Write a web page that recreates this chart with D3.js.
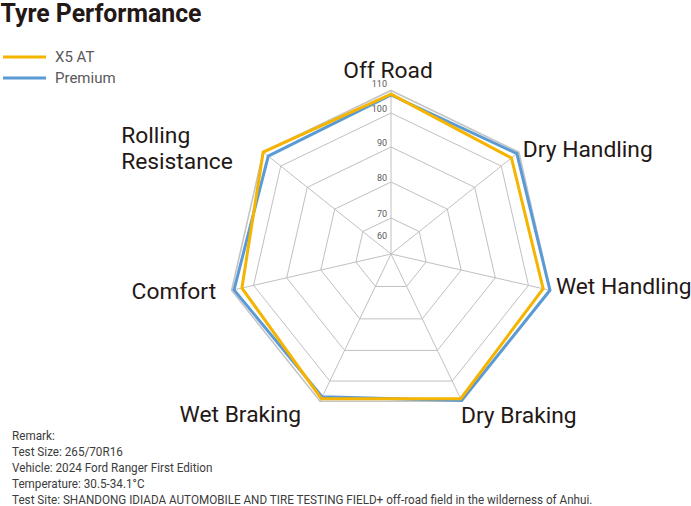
<!DOCTYPE html>
<html>
<head>
<meta charset="utf-8">
<script src="https://cdn.jsdelivr.net/npm/d3@7/dist/d3.min.js"></script>
<style>
  html, body { margin: 0; padding: 0; background: #ffffff; }
  svg { display: block; font-family: Roboto, "Noto Sans", sans-serif; }
</style>
</head>
<body>
<svg id="chart" width="691" height="506"></svg>
<script>
// ---- data ----
const categories = ["Off Road", "Dry Handling", "Wet Handling", "Dry Braking", "Wet Braking", "Comfort", "Rolling Resistance"];
const seriesNames = ["X5 AT", "Premium"];
const x5AT    = [108.4, 105.8, 106.7, 108.7, 108.7, 105.3, 110.0];
const premium = [108.0, 108.9, 109.8, 109.6, 107.8, 108.9, 107.1];
const tickLabels = [60, 70, 80, 90, 100, 110];
const gridValues = [70, 80, 90, 100, 110];
const titleText = "Tyre Performance";
const remarks = [
  "Remark:",
  "Test Size: 265/70R16",
  "Vehicle: 2024 Ford Ranger First Edition",
  "Temperature: 30.5-34.1°C",
  "Test Site: SHANDONG IDIADA AUTOMOBILE AND TIRE TESTING FIELD+ off-road field in the wilderness of Anhui."
];

// ---- layout / style ----
const cx = 391, cy = 254;
const colors = ["#F5B400", "#5B9BD5"];
const labelLayout = [
  { anchor: "middle", dx: -3,   dy: -21 },
  { anchor: "start",  dx: 4,    dy: -3 },
  { anchor: "start",  dx: 5.5,  dy: -4.5 },
  { anchor: "start",  dx: -1,   dy: 13 },
  { anchor: "end",    dx: -19,  dy: 12 },
  { anchor: "end",    dx: -15.5,dy: 0.5 },
  { anchor: "start",  dx: -142, dy: -4, lines: ["Rolling", "Resistance"] }
];

const svg = d3.select("#chart");
const r = d3.scaleLinear().domain([60, 70, 80, 90, 100, 110]).range([14, 36, 72, 107, 141, 163.5]);
const n = categories.length;
const angle = d3.scaleLinear().domain([0, n]).range([0, 2 * Math.PI]);
const pt = (i, v) => {
  const a = angle(i), rr = r(v);
  return [cx + rr * Math.sin(a), cy - rr * Math.cos(a)];
};
const idx = d3.range(n);
const polyLine = d3.line().curve(d3.curveLinearClosed);
const maxV = gridValues[gridValues.length - 1];

// grid rings
svg.append("g").selectAll("path").data(gridValues).join("path")
  .attr("d", v => polyLine(idx.map(i => pt(i, v))))
  .attr("fill", "none")
  .attr("stroke", (v, k) => k === gridValues.length - 1 ? "#c4c4c4" : "#c0c0c0")
  .attr("stroke-width", (v, k) => k === gridValues.length - 1 ? 1.6 : 1);

// spokes
svg.append("g").selectAll("line").data(idx).join("line")
  .attr("x1", cx).attr("y1", cy)
  .attr("x2", i => pt(i, maxV)[0])
  .attr("y2", i => pt(i, maxV)[1])
  .attr("stroke", "#c0c0c0").attr("stroke-width", 1);

// tick labels
svg.append("g").selectAll("text").data(tickLabels).join("text")
  .attr("x", cx - 4)
  .attr("y", v => cy - r(v) - (v === maxV ? 3.5 : 0.8))
  .attr("text-anchor", "end")
  .attr("font-size", 9)
  .attr("fill", "#595959")
  .text(v => v);

// series (premium below, x5 on top)
const series = [x5AT, premium];
[1, 0].forEach(s => {
  svg.append("path")
    .attr("d", polyLine(series[s].map((v, i) => pt(i, v))))
    .attr("fill", "none")
    .attr("stroke", colors[s])
    .attr("stroke-width", 3)
    .attr("stroke-linejoin", "miter");
});

// category labels
const labG = svg.append("g").attr("fill", "#231815").attr("font-size", 22.8);
categories.forEach((c, i) => {
  const [vx, vy] = pt(i, maxV);
  const L = labelLayout[i];
  const t = labG.append("text").attr("text-anchor", L.anchor);
  if (L.lines) {
    L.lines.forEach((ln, k) => {
      t.append("tspan").attr("x", vx + L.dx).attr("y", vy + L.dy - 13 + k * 26 + 8.2).text(ln);
    });
  } else {
    t.attr("x", vx + L.dx).attr("y", vy + L.dy + 8.2).text(c);
  }
});

// title
svg.append("text")
  .attr("x", 0.5).attr("y", 22)
  .attr("font-size", 26).attr("font-weight", 700)
  .attr("fill", "#231815")
  .attr("textLength", 201).attr("lengthAdjust", "spacingAndGlyphs")
  .text(titleText);

// legend
const lg = svg.append("g");
seriesNames.forEach((name, s) => {
  const y = 57 + s * 21;
  lg.append("line").attr("x1", 3).attr("x2", 46).attr("y1", y).attr("y2", y)
    .attr("stroke", colors[s]).attr("stroke-width", 3);
  lg.append("text").attr("x", 55).attr("y", y + 5.3)
    .attr("font-size", 15).attr("fill", "#595959").text(name);
});

// remarks
const rg = svg.append("g").attr("transform", "translate(12,0) scale(0.936,1)");
rg.selectAll("text").data(remarks).join("text")
  .attr("x", 0)
  .attr("y", (d, k) => 440.5 + k * 16)
  .attr("font-size", 12.5)
  .attr("fill", "#3c3c3c")
  .text(d => d);
</script>
</body>
</html>
